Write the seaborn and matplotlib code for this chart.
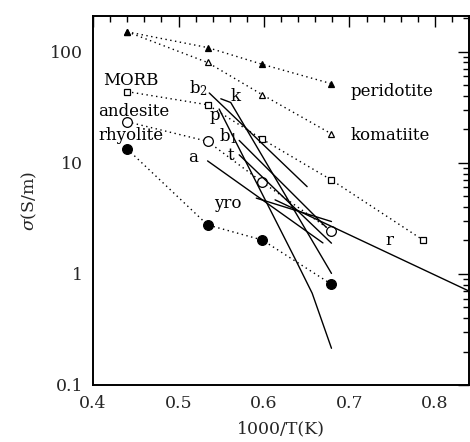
import numpy as np
import pandas as pd
import matplotlib
matplotlib.use("Agg")
import matplotlib.pyplot as plt
import seaborn as sns
from matplotlib.ticker import MultipleLocator, LogLocator, NullFormatter, FixedLocator, FixedFormatter

# ---- data ----
inv_T = [0.44, 0.534, 0.598, 0.679]
peridotite = [151, 109, 77, 51.5]
komatiite = [151, 80, 41, 18.2]
morb_x = [0.44, 0.534, 0.598, 0.679, 0.786]
morb = [43.7, 33.3, 16.3, 7.0, 2.02]
andesite = [23.4, 15.6, 6.7, 2.44]
rhyolite = [13.3, 2.76, 2.02, 0.807]

b2_x, b2_y = [0.536, 0.6505], [42.5, 6.1]
k_x, k_y = [0.5495, 0.5611, 0.679], [37.7, 34.9, 1.01]
p_x, p_y = [0.5475, 0.637, 0.6564, 0.679], [30.5, 1.34, 0.67, 0.214]
b1_x, b1_y = [0.571, 0.6724], [15.9, 2.65]
t_x, t_y = [0.571, 0.679], [11.8, 1.89]
a_x, a_y = [0.534, 0.669], [10.4, 1.9]
yro_x, yro_y = [0.591, 0.679], [4.81, 2.96]
r_x, r_y = [0.613, 0.84], [4.64, 0.70]

x_ticks = [0.4, 0.5, 0.6, 0.7, 0.8]
x_tick_labels = ["0.4", "0.5", "0.6", "0.7", "0.8"]
y_ticks = [0.1, 1, 10, 100]
y_tick_labels = ["0.1", "1", "10", "100"]

# ---- style ----
sns.set_theme(style="white")
plt.rcParams["font.family"] = ["DejaVu Serif"]
plt.rcParams["mathtext.fontset"] = "dejavuserif"

fig = plt.figure(figsize=(4.7, 4.42), dpi=100)
ax = fig.add_axes([0.198, 0.129, 0.8, 0.835])
ax.set_yscale("log")

dot = (0, (1, 2.5))
common = dict(ax=ax, color="black", estimator=None, sort=False, legend=False)

sns.lineplot(x=inv_T, y=komatiite, linestyle=dot, linewidth=1, marker="^", markersize=5,
             markerfacecolor="white", markeredgecolor="black", markeredgewidth=0.9, **common)
sns.lineplot(x=inv_T, y=peridotite, linestyle=dot, linewidth=1, marker="^", markersize=5,
             markerfacecolor="black", markeredgecolor="black", markeredgewidth=0.9, **common)
sns.lineplot(x=morb_x, y=morb, linestyle=dot, linewidth=1, marker="s", markersize=5,
             markerfacecolor="white", markeredgecolor="black", markeredgewidth=0.9, **common)
sns.lineplot(x=inv_T, y=andesite, linestyle=dot, linewidth=1, marker="o", markersize=7,
             markerfacecolor="white", markeredgecolor="black", markeredgewidth=0.9, **common)
sns.lineplot(x=inv_T, y=rhyolite, linestyle=dot, linewidth=1, marker="o", markersize=7,
             markerfacecolor="black", markeredgecolor="black", markeredgewidth=0.9, **common)

for lx, ly in [(b2_x, b2_y), (k_x, k_y), (p_x, p_y), (b1_x, b1_y), (t_x, t_y),
               (a_x, a_y), (yro_x, yro_y), (r_x, r_y)]:
    sns.lineplot(x=lx, y=ly, linewidth=1, **common)

fs = 12
txt = dict(fontsize=fs, color="black")
ax.text(0.7015, 43.9, "peridotite", ha="left", va="center", **txt)
ax.text(0.7015, 17.5, "komatiite", ha="left", va="center", **txt)
ax.text(0.4113, 55, "MORB", ha="left", va="center", **txt)
ax.text(0.4055, 29, "andesite", ha="left", va="center", **txt)
ax.text(0.4067, 17.5, "rhyolite", ha="left", va="center", **txt)
ax.text(0.5125, 47, r"b$_2$", ha="left", va="center", **txt)
ax.text(0.5673, 39.7, "k", ha="center", va="center", **txt)
ax.text(0.5428, 26.5, "p", ha="center", va="center", **txt)
ax.text(0.5476, 17.2, r"b$_1$", ha="left", va="center", **txt)
ax.text(0.5615, 11.6, "t", ha="center", va="center", **txt)
ax.text(0.5171, 11.1, "a", ha="center", va="center", **txt)
ax.text(0.558, 4.28, "yro", ha="center", va="center", **txt)
ax.text(0.747, 1.98, "r", ha="center", va="center", **txt)

ax.set_xlim(0.4, 0.84)
ax.set_ylim(0.1, 210)

ax.xaxis.set_major_locator(FixedLocator(x_ticks))
ax.xaxis.set_major_formatter(FixedFormatter(x_tick_labels))
ax.xaxis.set_minor_locator(MultipleLocator(0.02))
ax.yaxis.set_major_locator(FixedLocator(y_ticks))
ax.yaxis.set_major_formatter(FixedFormatter(y_tick_labels))
ax.yaxis.set_minor_locator(LogLocator(base=10, subs=np.arange(2, 10)))
ax.yaxis.set_minor_formatter(NullFormatter())

ax.tick_params(which="both", direction="in", top=True, right=True, color="black", width=1)
ax.tick_params(which="major", length=8, labelsize=12.5, pad=7)
ax.tick_params(which="minor", length=4)
for s in ax.spines.values():
    s.set_color("black")
    s.set_linewidth(1.4)

ax.set_xlabel("1000/T(K)", fontsize=12.5, labelpad=6)
ax.set_ylabel(r"$\sigma$(S/m)", fontsize=12.5, labelpad=8)

fig.savefig("out.png", dpi=100)
